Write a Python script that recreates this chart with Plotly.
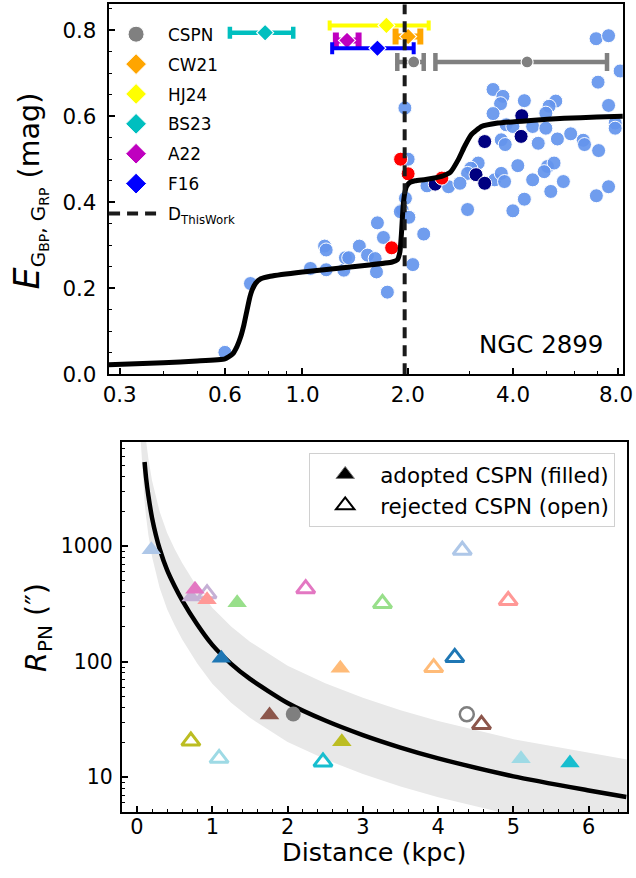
import plotly.graph_objects as go

# ---------------- top panel data ----------------
bg_D = [0.600, 0.710, 1.054, 1.157, 1.169, 1.169, 1.313, 1.327, 1.356, 1.454, 1.535, 1.614, 1.628,
        1.638, 1.704, 1.749, 2.222, 2.068, 1.970, 1.929, 1.905, 2.015, 1.963, 2.005, 2.270, 2.616,
        6.914, 7.506, 8.10, 7.004, 7.506, 7.84, 7.84, 3.508, 3.744, 3.686, 3.508, 4.311, 5.302,
        5.075, 4.966, 3.825, 3.997, 4.553, 4.966, 3.703, 3.801, 4.724, 5.36, 5.848, 6.352, 6.406,
        7.03, 3.181, 3.031, 2.966, 3.545, 3.703, 3.784, 4.129, 5.022, 5.243, 4.912, 4.553, 5.574,
        5.131, 2.821, 4.311, 3.997, 2.966, 6.927, 7.506]
bg_E = [0.051, 0.211, 0.246, 0.298, 0.289, 0.243, 0.242, 0.271, 0.271, 0.298, 0.277, 0.269, 0.238,
        0.352, 0.318, 0.191, 0.326, 0.255, 0.409, 0.382, 0.378, 0.365, 0.619, 0.500, 0.438, 0.436,
        0.780, 0.787, 0.705, 0.679, 0.625, 0.584, 0.572, 0.662, 0.646, 0.629, 0.606, 0.636, 0.635,
        0.623, 0.607, 0.580, 0.576, 0.576, 0.572, 0.545, 0.534, 0.537, 0.547, 0.559, 0.544, 0.534,
        0.520, 0.491, 0.479, 0.467, 0.452, 0.467, 0.448, 0.485, 0.483, 0.491, 0.471, 0.452, 0.448,
        0.425, 0.444, 0.407, 0.380, 0.383, 0.415, 0.436]
navy_D = [2.397, 3.136, 3.32, 3.32, 4.238, 4.219]
navy_E = [0.442, 0.464, 0.444, 0.541, 0.601, 0.553]
red_D = [1.908, 2.005, 2.504, 1.799]
red_E = [0.500, 0.466, 0.456, 0.294]

curve_D = [0.279, 0.4, 0.5, 0.6, 0.631, 0.65, 0.665, 0.68, 0.694, 0.705, 0.717, 0.735, 0.76, 0.809,
           1.0, 1.248, 1.553, 1.806, 1.867, 1.9, 1.92, 1.94, 1.96, 1.985, 2.03, 2.1, 2.25, 2.5,
           2.65, 2.79, 2.91, 3.04, 3.25, 3.62, 4.5, 5.6, 6.95, 8.25]
curve_E = [0.022, 0.027, 0.031, 0.036, 0.047, 0.065, 0.086, 0.115, 0.149, 0.175, 0.195, 0.212,
           0.222, 0.228, 0.238, 0.246, 0.254, 0.261, 0.266, 0.285, 0.33, 0.39, 0.42, 0.437, 0.446,
           0.45, 0.453, 0.46, 0.47, 0.499, 0.530, 0.557, 0.576, 0.584, 0.590, 0.595, 0.598, 0.600]

top_tickvals = [0.3, 0.6, 1, 2, 4, 8]
top_ticktext = ["0.3", "0.6", "1.0", "2.0", "4.0", "8.0"]

d_this = 1.96
lit = {
    "CSPN": dict(D=[2.08, 4.39], E=[0.726, 0.726], lo=[1.867, 2.40], hi=[2.222, 7.43]),
    "CW21": dict(D=[2.005], E=[0.785], lo=[1.846], hi=[2.173]),
    "HJ24": dict(D=[1.738], E=[0.811], lo=[1.196], hi=[2.296]),
    "BS23": dict(D=[0.782], E=[0.794], lo=[0.620], hi=[0.941]),
    "A22": dict(D=[1.341], E=[0.776], lo=[1.246], hi=[1.447]),
    "F16": dict(D=[1.638], E=[0.758], lo=[1.216], hi=[2.08]),
}
lit_style = {
    "CSPN": dict(color="#808080", symbol="circle", size=12, cap=9, thick=4.5),
    "CW21": dict(color="#FFA500", symbol="diamond", size=13, cap=8, thick=6),
    "HJ24": dict(color="#FFFF00", symbol="diamond", size=13, cap=5, thick=4),
    "BS23": dict(color="#00BFBF", symbol="diamond", size=13, cap=6, thick=4.5),
    "A22": dict(color="#BF00BF", symbol="diamond", size=13, cap=8, thick=6),
    "F16": dict(color="#0000FF", symbol="diamond", size=13, cap=6, thick=4),
}

# ---------------- bottom panel data ----------------
obj_colors = ["#c5b0d5", "#e377c2", "#ff9896", "#aec7e8", "#98df8a", "#1f77b4",
              "#ffbb78", "#8c564b", "#bcbd22", "#9edae5", "#17becf"]
adopt_D = [0.72, 0.77, 0.93, 0.19, 1.33, 1.12, 2.70, 1.76, 2.72, 5.10, 5.75]
adopt_R = [363, 423, 344, 930, 324, 107, 88, 34.6, 20.3, 14.5, 13.3]
reject_D = [0.93, 2.24, 4.93, 4.32, 3.26, 4.22, 3.94, 4.575, 0.715, 1.09, 2.47]
reject_R = [388, 429, 339, 923, 319, 109, 89, 28.7, 20.6, 14.6, 13.6]
ngc_adopt_D, ngc_adopt_R = [2.075], [35.3]
ngc_reject_D, ngc_reject_R = [4.38], [35.1]

rel_D = [0.10, 0.12, 0.15, 0.2, 0.25, 0.3, 0.4, 0.5, 0.6, 0.8, 1.0, 1.25, 1.5, 2.0, 2.5, 3.0,
         3.5, 4.0, 5.0, 6.0, 6.5]
rel_R = [5350, 3900, 2750, 1750, 1250, 950, 620, 450, 340, 210, 140, 96, 71, 44, 31, 23.2,
         18.1, 14.6, 10.2, 7.7, 6.75]
band_D = [0.05, 0.08, 0.1, 0.12, 0.15, 0.2, 0.25, 0.3, 0.4, 0.5, 0.6, 0.8, 1.0, 1.25, 1.5, 2.0,
          2.5, 3.0, 3.5, 4.0, 5.0, 6.0, 6.6]
band_hi = [36500, 16400, 11200, 8190, 5775, 3675, 2625, 1995, 1302, 945, 714, 441, 294, 202,
           149, 92.4, 65.1, 48.7, 38, 30.7, 21.4, 16.2, 13.9]
band_lo = [8000, 3600, 2460, 1794, 1265, 805, 575, 437, 285, 207, 156, 96.6, 64.4, 44.2, 32.7,
           20.2, 14.3, 10.7, 8.33, 6.72, 4.69, 3.54, 3.04]

# ---------------- layout helpers ----------------
W, H = 636, 878
SY, AY = 0.9815, 4.3  # vertical compensation for the photographed page


def fx(X):
    return max(0.0, min(1.0, X / W))


def fy(Y):
    return max(0.0, min(1.0, 1 - (Y / SY - AY) / H))


K = 1.02

fig = go.Figure()

# ---- top panel ----
fig.add_trace(go.Scatter(x=bg_D, y=bg_E, mode="markers", xaxis="x", yaxis="y", showlegend=False,
                         marker=dict(size=14, color="rgba(100,149,237,0.92)",
                                     line=dict(color="white", width=1))))
fig.add_trace(go.Scatter(x=navy_D, y=navy_E, mode="markers", xaxis="x", yaxis="y", showlegend=False,
                         marker=dict(size=14, color="#000080", line=dict(color="white", width=1))))
fig.add_trace(go.Scatter(x=red_D, y=red_E, mode="markers", xaxis="x", yaxis="y", showlegend=False,
                         marker=dict(size=14, color="#FF0000", line=dict(color="white", width=1))))
fig.add_trace(go.Scatter(x=curve_D, y=curve_E, mode="lines", xaxis="x", yaxis="y", showlegend=False,
                         line=dict(color="black", width=5, shape="spline", smoothing=0.4)))

for i, (name, d) in enumerate(lit.items()):
    st = lit_style[name]
    plus = [h - v for h, v in zip(d["hi"], d["D"])]
    minus = [v - l for l, v in zip(d["lo"], d["D"])]
    fig.add_trace(go.Scatter(
        x=d["D"], y=d["E"], mode="markers", xaxis="x", yaxis="y", showlegend=False,
        marker=dict(size=st["size"], color=st["color"], symbol=st["symbol"],
                    line=dict(color="white", width=1.2)),
        error_x=dict(type="data", symmetric=False, array=plus, arrayminus=minus,
                     color=st["color"], thickness=st["thick"], width=st["cap"])))

fig.add_trace(go.Scatter(x=[d_this, d_this], y=[0, 0.86], mode="lines", xaxis="x", yaxis="y",
                         showlegend=False,
                         line=dict(color="#1a1a1a", width=4, dash="11px,7px")))

for i, name in enumerate(lit.keys()):
    st = lit_style[name]
    fig.add_trace(go.Scatter(
        x=[None], y=[None], mode="markers", xaxis="x", yaxis="y", name=name,
        legend="legend", legendgroup="g%d" % i,
        marker=dict(size=16, color=st["color"], symbol=st["symbol"],
                    line=dict(color="white", width=1))))
fig.add_trace(go.Scatter(x=[None], y=[None], mode="lines", xaxis="x", yaxis="y",
                         name="D<sub>ThisWork</sub>", legend="legend", legendgroup="g9",
                         line=dict(color="#1a1a1a", width=4, dash="11px,7px")))

# ---- bottom panel ----
fig.add_trace(go.Scatter(x=band_D, y=band_lo, mode="lines", xaxis="x2", yaxis="y2",
                         showlegend=False, line=dict(width=0, color="rgba(0,0,0,0)")))
fig.add_trace(go.Scatter(x=band_D, y=band_hi, mode="lines", xaxis="x2", yaxis="y2",
                         showlegend=False, fill="tonexty", fillcolor="#e8e8e8",
                         line=dict(width=0, color="rgba(0,0,0,0)")))
fig.add_trace(go.Scatter(x=rel_D, y=rel_R, mode="lines", xaxis="x2", yaxis="y2",
                         showlegend=False, line=dict(color="black", width=4.5, shape="spline",
                                                     smoothing=0.6)))
fig.add_trace(go.Scatter(x=reject_D, y=reject_R, mode="markers", xaxis="x2", yaxis="y2",
                         showlegend=False,
                         marker=dict(symbol="triangle-up-open", size=16, color=obj_colors,
                                     line=dict(width=3))))
fig.add_trace(go.Scatter(x=ngc_reject_D, y=ngc_reject_R, mode="markers", xaxis="x2", yaxis="y2",
                         showlegend=False,
                         marker=dict(symbol="circle-open", size=14, color="#7f7f7f",
                                     line=dict(width=2.5))))
fig.add_trace(go.Scatter(x=adopt_D, y=adopt_R, mode="markers", xaxis="x2", yaxis="y2",
                         showlegend=False,
                         marker=dict(symbol="triangle-up", size=17, color=obj_colors,
                                     line=dict(width=0))))
fig.add_trace(go.Scatter(x=ngc_adopt_D, y=ngc_adopt_R, mode="markers", xaxis="x2", yaxis="y2",
                         showlegend=False,
                         marker=dict(symbol="circle", size=15, color="#7f7f7f", line=dict(width=0))))
fig.add_trace(go.Scatter(x=[None], y=[None], mode="markers", xaxis="x2", yaxis="y2",
                         name="adopted CSPN (filled)", legend="legend2",
                         marker=dict(symbol="triangle-up", size=16, color="black",
                                     line=dict(color="#777777", width=1))))
fig.add_trace(go.Scatter(x=[None], y=[None], mode="markers", xaxis="x2", yaxis="y2",
                         name="rejected CSPN (open)", legend="legend2",
                         marker=dict(symbol="triangle-up-open", size=16, color="black",
                                     line=dict(width=2))))

axis_common = dict(showline=True, linecolor="black", linewidth=1.5, mirror=True,
                   ticks="inside", tickcolor="black", tickwidth=1.5, ticklen=7,
                   showgrid=False, zeroline=False)

# the last top tick label sits at the page edge; draw it as an edge-anchored text
top_ticktext_axis = top_ticktext[:-1] + [""]

fig.update_layout(
    width=W, height=H, margin=dict(l=0, r=0, t=0, b=0),
    paper_bgcolor="white", plot_bgcolor="white",
    font=dict(family="DejaVu Sans", color="black", size=20),
    xaxis=dict(domain=[fx(103.5), fx(622.7)], anchor="y", type="log", range=[-0.5547, 0.9162],
               tickmode="array", tickvals=top_tickvals, ticktext=top_ticktext_axis,
               tickfont=dict(size=21 * K), ticklabelstandoff=0,
               minor=dict(tickmode="array", tickvals=[0.4, 0.5, 0.7, 0.8, 0.9, 3, 5, 6, 7],
                          ticks="inside", ticklen=4, tickwidth=1, tickcolor="black"),
               **axis_common),
    yaxis=dict(domain=[fy(376.7), fy(8.5)], anchor="x", range=[0, 0.86],
               tickmode="array", tickvals=[0, 0.2, 0.4, 0.6, 0.8],
               ticktext=["0.0", "0.2", "0.4", "0.6", "0.8"],
               tickfont=dict(size=21 * K), ticklabelstandoff=6,
               minor=dict(dtick=0.05, tick0=0, ticks="inside", ticklen=4, tickwidth=1,
                          tickcolor="black"),
               **axis_common),
    xaxis2=dict(domain=[fx(116.7), fx(626.7)], anchor="y2", range=[-0.205, 6.505],
                tickmode="array", tickvals=[0, 1, 2, 3, 4, 5, 6],
                tickfont=dict(size=20.5 * K), ticklabelstandoff=-5,
                minor=dict(dtick=0.2, tick0=0, ticks="inside", ticklen=4, tickwidth=1,
                           tickcolor="black"),
                **axis_common),
    yaxis2=dict(domain=[fy(812.7), fy(444)], anchor="x2", type="log", range=[0.696, 3.902],
                tickmode="array", tickvals=[10, 100, 1000], ticktext=["10", "100", "1000"],
                tickfont=dict(size=20 * K), ticklabelstandoff=3,
                minor=dict(tickmode="array",
                           tickvals=[6, 7, 8, 9, 20, 30, 40, 50, 60, 70, 80, 90,
                                     200, 300, 400, 500, 600, 700, 800, 900,
                                     2000, 3000, 4000, 5000, 6000, 7000],
                           ticks="inside", ticklen=4, tickwidth=1, tickcolor="black"),
                **axis_common),
    legend=dict(x=99 / W, y=1 - 17 / H, xanchor="left", yanchor="top",
                bgcolor="rgba(0,0,0,0)", borderwidth=0, font=dict(size=16.5 * K),
                tracegroupgap=5, itemwidth=54),
    legend2=dict(x=fx(615), y=fy(455), xanchor="right", yanchor="top", bgcolor="white",
                 bordercolor="#d0d0d0", borderwidth=1, font=dict(size=21 * K), itemwidth=60),
    annotations=[
        dict(text=top_ticktext[-1], x=fx(634), y=fy(397), xref="paper", yref="paper",
             xanchor="right", yanchor="middle", showarrow=False, font=dict(size=21 * K),
             borderpad=0),
        dict(text="NGC 2899", x=fx(605), y=fy(346.7), xref="paper", yref="paper",
             xanchor="right", yanchor="middle", showarrow=False, font=dict(size=24 * K)),
        dict(text="<span style='font-size:35px'><i>E</i></span><sub>G<sub>BP</sub>, G<sub>RP</sub></sub> (mag)",
             x=fx(24), y=fy(194), xref="paper", yref="paper", textangle=-90,
             xanchor="center", yanchor="middle", showarrow=False, font=dict(size=28 * K)),
        dict(text="<i>R</i><sub>PN</sub> (″)", x=fx(33), y=fy(628.4), xref="paper", yref="paper",
             textangle=-90, xanchor="center", yanchor="middle", showarrow=False,
             font=dict(size=28 * K)),
        dict(text="Distance (kpc)", x=fx(371.7), y=1 - 864 / H, xref="paper", yref="paper",
             xanchor="center", yanchor="middle", showarrow=False, font=dict(size=25.5)),
    ],
)

fig.write_html("out.html")
